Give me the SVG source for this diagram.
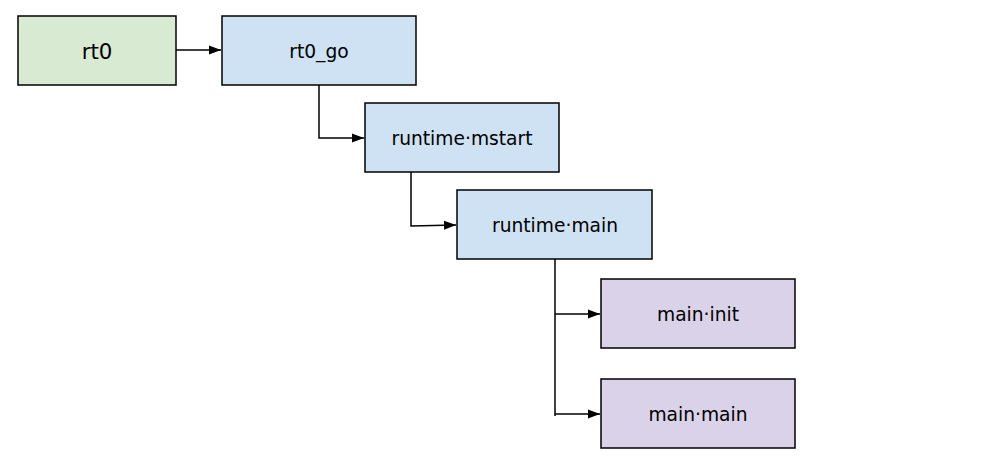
<svg xmlns="http://www.w3.org/2000/svg" width="998" height="474" viewBox="0 0 998 474">
<style>
.box{stroke:#000;stroke-width:1.5}
.green{fill:#d9ead3}.blue{fill:#cfe2f3}.purple{fill:#d9d2e9}
text{font-family:"DejaVu Sans",sans-serif;font-size:18.67px;fill:#000;text-anchor:middle}
.big{font-size:21.33px}
.conn{fill:none;stroke:#000;stroke-width:1.5}
</style>
<defs>
<marker id="arr" markerWidth="12" markerHeight="10" refX="12" refY="5" orient="auto" markerUnits="userSpaceOnUse">
<path d="M0,0.5 L12,5 L0,9.5 Z" fill="#000"/>
</marker>
</defs>
<rect width="998" height="474" fill="#fff"/>
<g id="connectors">
<path class="conn" d="M176,50 H221" marker-end="url(#arr)"/>
<path class="conn" d="M319,85 V138 H364" marker-end="url(#arr)"/>
<path class="conn" d="M411,172 V226 L456,225" marker-end="url(#arr)"/>
<path class="conn" d="M555,259 V416"/>
<path class="conn" d="M555,314 H600" marker-end="url(#arr)"/>
<path class="conn" d="M555,414 H600" marker-end="url(#arr)"/>
</g>
<g id="rt0"><rect class="box green" x="18" y="16" width="158" height="69"/><text class="big" x="97" y="59">rt0</text></g>
<g id="rt0_go"><rect class="box blue" x="222" y="16" width="194" height="69"/><text x="319" y="58">rt0_go</text></g>
<g id="mstart"><rect class="box blue" x="365" y="103" width="194" height="69"/><text x="462" y="145">runtime·mstart</text></g>
<g id="runtime_main"><rect class="box blue" x="457" y="190" width="195" height="69"/><text x="555" y="232">runtime·main</text></g>
<g id="main_init"><rect class="box purple" x="601" y="279" width="194" height="69"/><text x="698" y="321">main·init</text></g>
<g id="main_main"><rect class="box purple" x="601" y="379" width="194" height="69"/><text x="698" y="421">main·main</text></g>
</svg>
